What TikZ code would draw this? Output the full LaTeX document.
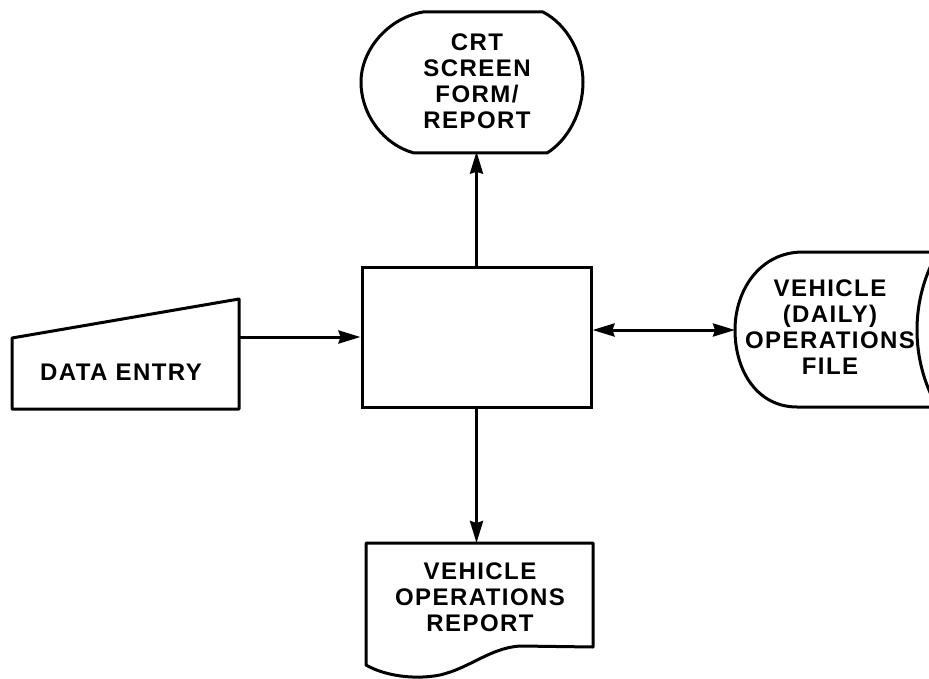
\documentclass[tikz,border=0pt]{standalone}
\usepackage{fontspec}
\setmainfont{Liberation Sans}[LetterSpace=6]
\usetikzlibrary{arrows.meta}
\begin{document}
\begin{tikzpicture}[x=1pt,y=-1pt,
  outline/.style={line width=3pt,line join=round},
  lbl/.style={align=center,font=\fontsize{24}{26}\bfseries\selectfont,inner sep=0pt},
  tip/.style={Stealth[length=22pt,width=13pt,inset=2pt]},
  conn/.style={line width=3pt,-{Stealth[length=22pt,width=13pt,inset=2pt]}},
  bconn/.style={line width=3pt,{Stealth[length=22pt,width=13pt,inset=2pt]}-{Stealth[length=22pt,width=13pt,inset=2pt]}}]
\useasboundingbox[fill=white] (0,0) rectangle (929,679);
% process box
\node[draw,line width=3pt,minimum width=229pt,minimum height=140pt,inner sep=0pt] (proc) at (476.5,337) {};
% CRT display
\draw[outline] (423,12) -- (543,12) .. controls (568,25) and (583,55) .. (583,82)
  .. controls (583,112) and (568,140) .. (547,153) -- (414,153)
  .. controls (384,145) and (361,115) .. (361,82)
  .. controls (361,50) and (388,18) .. (423,12) -- cycle;
\node[lbl,minimum width=220pt,minimum height=141pt] (crt) at (477,81) {CRT\\SCREEN\\FORM/\\REPORT};
% manual input
\draw[outline] (12,338) -- (239,299) -- (239,409) -- (12,409) -- cycle;
\node[minimum width=227pt,minimum height=110pt,inner sep=0pt] (entry) at (125.5,354) {};
\node[lbl] (entrytext) at (121,372) {DATA ENTRY};
% stored data
\draw[outline] (938,252) -- (803,252) .. controls (760,252) and (735,290) .. (735,330)
  .. controls (735,372) and (758,407) .. (797,407) -- (938,407);
\draw[outline] (1073,330) circle[radius=156pt];
\node[lbl,minimum width=200pt,minimum height=155pt,anchor=west] (file) at (735,330) {};
\node[lbl] (filetext) at (830,327) {VEHICLE\\(DAILY)\\OPERATIONS\\FILE};
% document
\draw[outline] (366,543) -- (593,543) -- (593,647) -- (520,646)
  .. controls (490,648) and (470,668) .. (440,675)
  .. controls (415,680) and (385,676) .. (366,665) -- cycle;
\node[minimum width=227pt,minimum height=122pt,inner sep=0pt,anchor=north] (report) at (479.5,543) {};
\node[lbl] (reporttext) at (480,597) {VEHICLE\\OPERATIONS\\REPORT};
% connectors
\draw[conn] (proc.north) -- (proc.north |- crt.south);
\draw[conn] (entry.east |- proc.west) -- (proc.west);
\draw[bconn] (proc.east |- file.west) -- (file.west);
\draw[conn] (proc.south) -- (proc.south |- report.north);
\end{tikzpicture}
\end{document}
